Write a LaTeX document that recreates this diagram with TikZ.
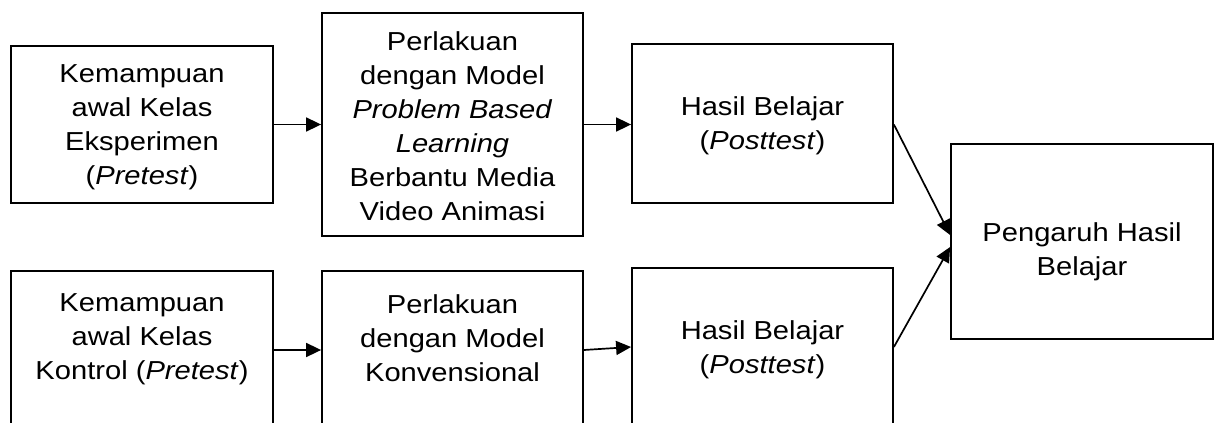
\documentclass[tikz,border=0pt]{standalone}
\usepackage{fontspec}
\setmainfont[FakeStretch=1.12]{Liberation Sans}
\usetikzlibrary{arrows.meta}
\tikzset{
  box/.style={draw, line width=1.8pt, inner sep=0pt},
  txt/.style={inner sep=0pt, align=center, anchor=north, font=\fontsize{26pt}{34pt}\selectfont},
  arr/.style={line width=1.7pt, -{Triangle[length=15pt,width=14pt]}},
}
\begin{document}
\begin{tikzpicture}[x=1pt,y=-1pt]
\useasboundingbox (0,0) rectangle (1219,423);
\clip (0,0) rectangle (1219,423);
% top row
\node[box, minimum width=262pt, minimum height=157pt] (b1) at (142,124.5) {};
\node[txt] (t1) at ([yshift=-19pt]b1.north) {Kemampuan\\awal Kelas\\Eksperimen\\(\textit{Pretest})};
\node[box, minimum width=261pt, minimum height=223pt] (b2) at (452.5,124.5) {};
\node[txt] (t2) at ([yshift=-19pt]b2.north) {Perlakuan\\dengan Model\\\textit{Problem Based}\\\textit{Learning}\\Berbantu Media\\Video Animasi};
\node[box, minimum width=261pt, minimum height=159pt] (b3) at (762.5,123.5) {};
\node[txt] (t3) at ([yshift=-53pt]b3.north) {Hasil Belajar\\(\textit{Posttest})};
% right box
\node[box, minimum width=262pt, minimum height=195pt] (b7) at (1082,241.5) {};
\node[txt] (t7) at ([yshift=-79pt]b7.north) {Pengaruh Hasil\\Belajar};
% bottom row
\node[box, minimum width=262pt, minimum height=170pt, anchor=north] (b4) at (142,270) {};
\node[txt] (t4) at ([yshift=-23pt]b4.north) {Kemampuan\\awal Kelas\\Kontrol (\textit{Pretest})};
\node[box, minimum width=261pt, minimum height=170pt, anchor=north] (b5) at (452.5,270) {};
\node[txt] (t5) at ([yshift=-24pt]b5.north) {Perlakuan\\dengan Model\\Konvensional};
\node[box, minimum width=261pt, minimum height=170pt, anchor=north] (b6) at (762.5,267) {};
\node[txt] (t6) at ([yshift=-53pt]b6.north) {Hasil Belajar\\(\textit{Posttest})};
% connectors
\draw[arr] (b1.east) -- (b2.west);
\draw[arr] (b2.east) -- (b2.east -| b3.west);
\draw[arr] (b2.east -| b3.east) -- ([yshift=6.5pt]b7.west);
\draw[arr] ([yshift=-80pt]b4.north east) -- ([yshift=-80pt]b5.north west);
\draw[arr] ([yshift=-80pt]b5.north east) -- ([yshift=-80pt]b6.north west);
\draw[arr] ([yshift=-80pt]b6.north east) -- ([yshift=-5.5pt]b7.west);
\end{tikzpicture}
\end{document}
